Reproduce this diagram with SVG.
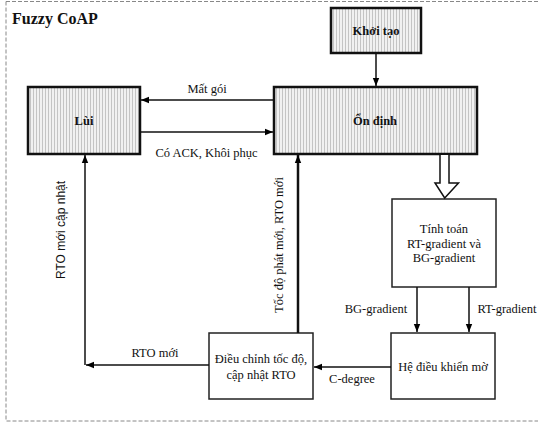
<svg xmlns="http://www.w3.org/2000/svg" width="538" height="423" viewBox="0 0 538 423" font-family="'Liberation Serif', 'DejaVu Serif', serif">
<defs>
<pattern id="hatch" width="3" height="4" patternUnits="userSpaceOnUse">
<rect width="3" height="4" fill="#f1f1f1"/>
<rect x="0" width="1" height="4" fill="#c4c4c4"/>
</pattern>
<marker id="ah" viewBox="0 0 10 10" refX="10" refY="5" markerWidth="8" markerHeight="8" markerUnits="userSpaceOnUse" orient="auto">
<path d="M0,1 L10,5 L0,9 Z" fill="#000"/>
</marker>
</defs>
<style>
text{font-family:'Liberation Serif','DejaVu Serif',serif}
.t{font-size:12.5px;fill:#111;text-anchor:middle}
.b{font-weight:bold}
.s{font-family:'Liberation Sans','DejaVu Sans',sans-serif}
.hb{fill:url(#hatch);stroke:#111;stroke-width:2.5}
.pb{fill:#fff;stroke:#222;stroke-width:1.5}
.c{fill:none;stroke:#111;stroke-width:1.5}
.ct{fill:none;stroke:#111;stroke-width:2.5}
</style>
<rect width="538" height="423" fill="#fff"/>
<path d="M6,1.5 H538 M6,1.5 V421 H538" fill="none" stroke="#888" stroke-width="1" stroke-dasharray="4,2"/>
<text x="12" y="24" class="t b" style="font-size:16px;text-anchor:start">Fuzzy CoAP</text>

<g id="khoi-tao">
<rect x="331" y="8" width="90" height="45" class="hb"/>
<text x="376" y="35" class="t b">Khởi tạo</text>
</g>
<g id="on-dinh">
<rect x="274" y="87" width="203" height="67" class="hb"/>
<text x="375" y="125" class="t b">Ổn định</text>
</g>
<g id="lui">
<rect x="28" y="87" width="112" height="67" class="hb"/>
<text x="84" y="125" class="t b">Lùi</text>
</g>
<g id="tinh-toan">
<rect x="392" y="199" width="104" height="88" class="pb"/>
<text x="444" y="233" class="t">Tính toán</text>
<text x="444" y="248" class="t">RT-gradient và</text>
<text x="444" y="262" class="t">BG-gradient</text>
</g>
<g id="he-dieu-khien">
<rect x="391" y="333" width="104" height="66" class="pb"/>
<text x="443" y="371" class="t">Hệ điều khiển mờ</text>
</g>
<g id="dieu-chinh">
<rect x="209" y="333" width="104" height="66" class="pb"/>
<text x="261" y="363" class="t">Điều chỉnh tốc độ,</text>
<text x="261" y="379" class="t">cập nhật RTO</text>
</g>

<g id="connectors">
<line x1="376" y1="53" x2="376" y2="86" class="c" marker-end="url(#ah)"/>
<line x1="274" y1="100" x2="141" y2="100" class="c" marker-end="url(#ah)"/>
<line x1="140" y1="132" x2="273" y2="132" class="c" marker-end="url(#ah)"/>
<path d="M440,155 V183 H435 L444.7,198 L458.5,183 H449 V155" fill="#fff" stroke="#111" stroke-width="1.5" stroke-linejoin="miter"/>
<line x1="417" y1="287" x2="417" y2="332" class="c" marker-end="url(#ah)"/>
<line x1="469" y1="287" x2="469" y2="332" class="c" marker-end="url(#ah)"/>
<line x1="391" y1="367" x2="314" y2="367" class="c" marker-end="url(#ah)"/>
<line x1="298" y1="333" x2="298" y2="155" class="ct" marker-end="url(#ah)"/>
<line x1="209" y1="365" x2="86" y2="365" class="c" marker-end="url(#ah)"/>
<line x1="85" y1="365" x2="85" y2="155" class="c" marker-end="url(#ah)"/>
</g>

<text x="207" y="93" class="t">Mất gói</text>
<text x="206.5" y="157" class="t">Có ACK, Khôi phục</text>
<text x="376" y="313" class="t">BG-gradient</text>
<text x="507" y="313" class="t">RT-gradient</text>
<text x="352" y="383" class="t">C-degree</text>
<text x="155" y="357" class="t">RTO mới</text>
<text transform="translate(65,230) rotate(-90)" class="t s" style="font-size:12px">RTO mới cập nhật</text>
<text transform="translate(283,245) rotate(-90)" class="t">Tốc độ phát mới, RTO mới</text>
</svg>
